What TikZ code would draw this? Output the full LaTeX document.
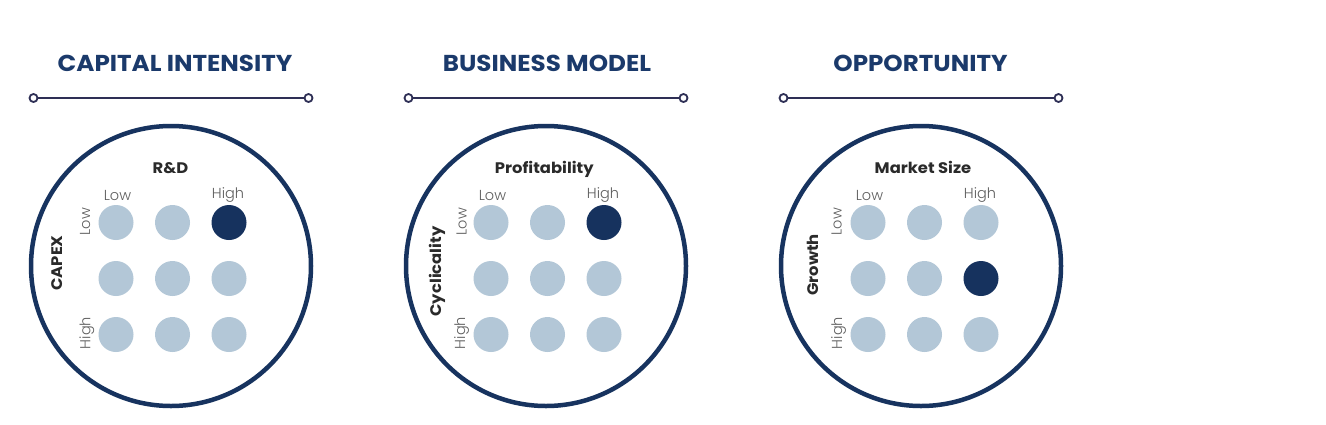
\documentclass[tikz,border=0pt]{standalone}
\usepackage{fontspec}
\setmainfont{Poppins}
\newfontfamily\titlefont[FakeStretch=1.07]{Poppins}
\newfontfamily\lightfont{Poppins Light}
\definecolor{titleblue}{HTML}{1B3A6B}
\definecolor{ringblue}{HTML}{17335F}
\definecolor{darkdot}{HTML}{16325E}
\definecolor{lightdot}{HTML}{B3C7D7}
\definecolor{rulecol}{HTML}{2E2F55}
\definecolor{labdark}{HTML}{2A2A2A}
\definecolor{labgray}{HTML}{5E5E5E}
\tikzset{
  titlestyle/.style={font=\titlefont\fontsize{23}{27}\selectfont\bfseries, text=titleblue, inner sep=0pt},
  endpt/.style={circle, draw=rulecol, fill=white, line width=1.8pt, minimum size=8pt, inner sep=0pt},
  rulestyle/.style={draw=rulecol, line width=2pt},
  ring/.style={circle, draw=ringblue, line width=4.5pt, minimum size=280pt, inner sep=0pt},
  dotstyle/.style={circle, minimum size=35pt, inner sep=0pt},
  axislab/.style={font=\titlefont\fontsize{15.3}{18}\selectfont\bfseries, text=labdark, inner sep=0pt},
  levlab/.style={font=\lightfont\fontsize{14.5}{17}\selectfont, text=labgray, inner sep=0pt}
}
\newcommand\panelbase[5]{%
  \node[endpt] (#1-l) at ({#2-137.5},98) {};
  \node[endpt] (#1-r) at ({#2+137.5},98) {};
  \draw[rulestyle] (#1-l) -- (#1-r);
  \node[ring] (#1-ring) at (#2,266) {};
  \foreach \r in {1,2,3}{\foreach \c in {1,2,3}{%
    \pgfmathtruncatemacro\isdark{(\r==#4)&&(\c==#5)}%
    \ifnum\isdark=1 \def\dc{darkdot}\else\def\dc{lightdot}\fi
    \node[dotstyle, fill=\dc] (#1-d\r\c) at ({#3+56.5*(\c-1)},{222.5+56*(\r-1)}) {};
  }}
  \node[levlab, anchor=base] (#1-tlow) at ({#3+1.5},200) {Low};
  \node[levlab, anchor=base] (#1-thigh) at ({#3+112},198.5) {High};
}
\begin{document}
\begin{tikzpicture}[x=1pt,y=-1pt]
\useasboundingbox[fill=white] (0,0) rectangle (1326,424);
% panel 1
\panelbase{p1}{171}{116}{1}{3}
\node[titlestyle, anchor=base] (p1-title) at (175,71) {CAPITAL INTENSITY};
\node[axislab, anchor=base] (p1-top) at (170.5,173.5) {R\&D};
\node[axislab, rotate=90] (p1-side) at (57.5,263) {CAPEX};
\node[levlab, rotate=90] (p1-slow) at (85,221.5) {Low};
\node[levlab, rotate=90] (p1-shigh) at (86.8,333) {High};
% panel 2
\panelbase{p2}{546}{491}{1}{3}
\node[titlestyle, anchor=base] (p2-title) at (547,71) {BUSINESS MODEL};
\node[axislab, anchor=base] (p2-top) at (544.3,173.5) {Profitability};
\node[axislab, rotate=90] (p2-side) at (437.5,271.5) {Cyclicality};
\node[levlab, rotate=90] (p2-slow) at (461.7,221.5) {Low};
\node[levlab, rotate=90] (p2-shigh) at (461.7,333) {High};
% panel 3
\panelbase{p3}{921}{868}{2}{3}
\node[titlestyle, anchor=base] (p3-title) at (920.5,71) {OPPORTUNITY};
\node[axislab, anchor=base] (p3-top) at (923,173.5) {Market Size};
\node[axislab, rotate=90] (p3-side) at (813,265) {Growth};
\node[levlab, rotate=90] (p3-slow) at (836.7,221.5) {Low};
\node[levlab, rotate=90] (p3-shigh) at (838.7,333) {High};
\end{tikzpicture}
\end{document}
